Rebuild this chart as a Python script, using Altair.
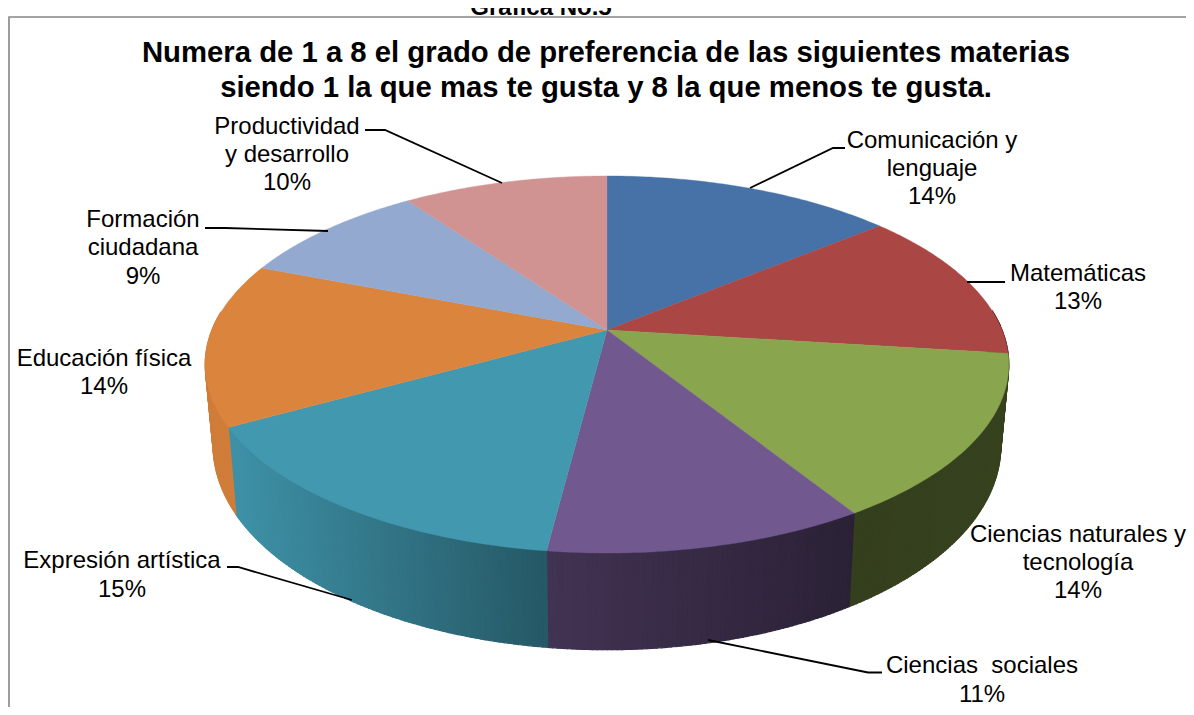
import math
import altair as alt

# Shares of the pie (read from rim boundaries, consistent with the printed labels)
SHARES = [14.0, 13.0, 14.14, 10.86, 14.9, 14.0, 9.26, 9.84]
TOP_COLORS = ["#4672A7", "#AA4643", "#89A54E", "#71588F", "#4198AF", "#DB843D", "#93A9CF", "#D19392"]

LABEL_TEXT = [
    "Comunicación y", "lenguaje", "14%",
    "Matemáticas", "13%",
    "Ciencias naturales y", "tecnología", "14%",
    "Ciencias\u00a0 sociales", "11%",
    "Expresión artística", "15%",
    "Educación física", "14%",
    "Formación", "ciudadana", "9%",
    "Productividad", "y desarrollo", "10%",
]
LABEL_X = [932, 932, 932, 1078, 1078, 1078, 1078, 1078, 982, 982, 122, 122, 104, 104, 143, 143, 143, 287, 287, 287]
LABEL_Y = [141, 169, 197, 274, 302, 535, 563, 591, 666, 695, 561, 590, 359, 387, 220, 248, 277, 127, 155, 183]

TITLE_LINES = ["Numera de 1 a 8 el grado de preferencia de las siguientes materias",
               "siendo 1 la que mas te gusta y 8 la que menos te gusta."]
CAPTION = "Gráfica No.5"

LEADERS = [
    [(750, 188), (833, 148), (845, 148)],
    [(967, 282), (1005, 282)],
    [(708, 640), (868, 672.5), (882, 672.5)],
    [(352, 600), (238, 567), (227, 567)],
    [(328, 231), (225, 228), (205, 228)],
    [(502, 183), (385, 130), (365, 130)],
]

OFF = 8  # page margin
CX, CY, AX, BY, PERSP, DEPTH, SHRINK = 607, 330, 395, 182.2, 0.183, 79, 0.98


def rim(t):
    u, v = math.sin(t), -math.cos(t)
    s = 1 / (1 - PERSP * v)
    return CX + AX * u * s, CY + BY * v * s, s


def top_pt(t):
    x, y, _ = rim(t)
    return [x - OFF, y - OFF]


def low_pt(t):
    x, y, s = rim(t)
    return [CX + (x - CX) * SHRINK - OFF, y + DEPTH * s - OFF]


def shade(x):
    knots = [(205, 0.95), (235, 0.95), (545, 0.58), (851, 0.38), (1010, 0.40)]
    if x <= knots[0][0]:
        return knots[0][1]
    for (a, fa), (b, fb) in zip(knots, knots[1:]):
        if x <= b:
            return fa + (fb - fa) * (x - a) / (b - a)
    return knots[-1][1]


def mix(hexcol, f):
    r, g, b = [int(hexcol[i:i + 2], 16) for i in (1, 3, 5)]
    return "#%02x%02x%02x" % (round(r * f), round(g * f), round(b * f))


def poly(coords, fill):
    return {"type": "Feature", "properties": {"fill": fill},
            "geometry": {"type": "Polygon", "coordinates": [coords + [coords[0]]]}}


def line(coords):
    return {"type": "Feature", "properties": {},
            "geometry": {"type": "LineString", "coordinates": [[x - OFF, y - OFF] for x, y in coords]}}


total = sum(SHARES)
edges = [0.0]
for s in SHARES:
    edges.append(edges[-1] + s / total * 2 * math.pi)

walls, tops = [], []
for i, col in enumerate(TOP_COLORS):
    a0, a1 = edges[i], edges[i + 1]
    n = max(2, int((a1 - a0) / math.radians(0.6)))
    ts = [a0 + (a1 - a0) * k / n for k in range(n + 1)]
    for p, q in zip(ts, ts[1:]):
        if -math.cos((p + q) / 2) < -0.1:
            continue
        c = mix(col, shade(rim((p + q) / 2)[0]))
        walls.append(poly([top_pt(p), top_pt(q), low_pt(q), low_pt(p)], c))
    tops.append(poly([[CX - OFF, CY - OFF]] + [top_pt(t) for t in
                      [a0 + (a1 - a0) * k / 60 for k in range(61)]], col))

PROJ = alt.Projection(type="identity", scale=1, translate=[0, 0])

walls_layer = alt.Chart(alt.Data(values=walls)).mark_geoshape(strokeWidth=1.2).encode(
    fill=alt.Color("properties.fill:N", scale=None, legend=None),
    stroke=alt.Color("properties.fill:N", scale=None, legend=None),
).project(**PROJ.to_dict())

tops_layer = alt.Chart(alt.Data(values=tops)).mark_geoshape(strokeWidth=0.4).encode(
    fill=alt.Color("properties.fill:N", scale=None, legend=None),
    stroke=alt.Color("properties.fill:N", scale=None, legend=None),
).project(**PROJ.to_dict())

leader_layer = alt.Chart(alt.Data(values=[line(c) for c in LEADERS])).mark_geoshape(
    filled=False, stroke="#000000", strokeWidth=1.8
).project(**PROJ.to_dict())

frame_layer = alt.Chart(alt.Data(values=[line([(9, 715), (9, 17), (1194, 17)])])).mark_geoshape(
    filled=False, stroke="#868686", strokeWidth=1.6
).project(**PROJ.to_dict())

labels = [{"t": t, "x": x - OFF, "y": y - OFF} for t, x, y in zip(LABEL_TEXT, LABEL_X, LABEL_Y)]
label_layer = alt.Chart(alt.Data(values=labels)).mark_text(
    font="Liberation Sans", fontSize=24, color="#000000", align="center", baseline="middle"
).encode(x=alt.X("x:Q", scale=None, axis=None), y=alt.Y("y:Q", scale=None, axis=None), text="t:N")

heads = [{"t": TITLE_LINES[0], "x": 606 - OFF, "y": 53 - OFF}, {"t": TITLE_LINES[1], "x": 606 - OFF, "y": 88 - OFF}]
head_layer = alt.Chart(alt.Data(values=heads)).mark_text(
    font="Liberation Sans", fontSize=29.3, fontWeight="bold", color="#000000", align="center", baseline="middle"
).encode(x=alt.X("x:Q", scale=None, axis=None), y=alt.Y("y:Q", scale=None, axis=None), text="t:N")

cap = [{"t": CAPTION, "x": 541 - OFF, "y": 7}]
cap_layer = alt.Chart(alt.Data(values=cap)).mark_text(
    font="Liberation Sans", fontSize=24, fontWeight="bold", color="#000000", align="center", baseline="alphabetic"
).encode(x=alt.X("x:Q", scale=None, axis=None), y=alt.Y("y:Q", scale=None, axis=None), text="t:N")

chart = alt.layer(frame_layer, walls_layer, tops_layer, leader_layer, label_layer, head_layer, cap_layer).properties(
    width=1178, height=699, padding=0, autosize=alt.AutoSizeParams(type="none"), background="#ffffff"
).configure_view(stroke=None)

chart.save("out.html", embed_options={"renderer": "svg", "actions": False})
